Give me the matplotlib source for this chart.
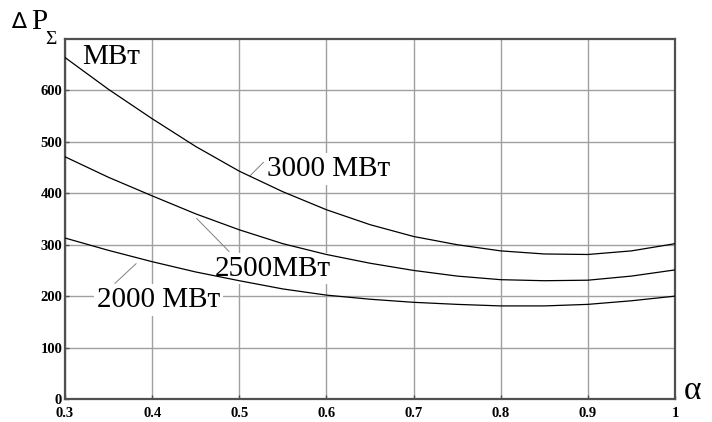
import numpy as np
import matplotlib
matplotlib.use('Agg')
import matplotlib.pyplot as plt

# Коэффициент alpha
alpha = [0.3, 0.35, 0.4, 0.45, 0.5, 0.55, 0.6, 0.65, 0.7, 0.75, 0.8, 0.85, 0.9, 0.95, 1.0]

# Суммарные потери, МВт
p_3000 = [664, 602, 545, 491, 443, 403, 368, 339, 316, 300, 288, 282, 281, 288, 302]
p_2500 = [471, 431, 395, 360, 329, 302, 281, 264, 250, 239, 232, 230, 231, 239, 251]
p_2000 = [313, 289, 267, 247, 230, 214, 202, 194, 188, 184, 181, 181, 184, 191, 200]

x_ticks = [0.3, 0.4, 0.5, 0.6, 0.7, 0.8, 0.9, 1.0]
x_tick_labels = ['0.3', '0.4', '0.5', '0.6', '0.7', '0.8', '0.9', '1']
y_ticks = [0, 100, 200, 300, 400, 500, 600]

serif = 'Liberation Serif'

fig = plt.figure(figsize=(7.12, 4.22), dpi=100)
ax = fig.add_axes([65 / 712, 1 - 399 / 422, 610 / 712, 360 / 422])

# Кривые
for p in (p_3000, p_2500, p_2000):
    ax.plot(alpha, p, color='black', linewidth=0.9, zorder=5)

ax.set_xlim(0.3, 1.0)
ax.set_ylim(0, 700)
ax.set_xticks(x_ticks)
ax.set_xticklabels(x_tick_labels)
ax.set_yticks(y_ticks)

ax.grid(True, color='#a0a0a0', linewidth=1.0, zorder=0)
ax.set_axisbelow(True)
for s in ax.spines.values():
    s.set_color('#505050')
    s.set_linewidth(1.6)

ax.tick_params(axis='both', direction='in', length=3, width=1, color='#505050')
ax.tick_params(axis='x', pad=6)
ax.tick_params(axis='y', pad=2)
for lab in ax.get_xticklabels() + ax.get_yticklabels():
    lab.set_fontfamily(serif)
    lab.set_fontweight('bold')
    lab.set_fontsize(10.5)

# Подписи кривых с белым фоном
box = dict(facecolor='white', edgecolor='none', pad=2)
ax.text(0.5318, 434, '3000 МВт', family=serif, fontsize=21, va='baseline', bbox=box, zorder=3)
ax.text(0.4721, 240, '2500МВт', family=serif, fontsize=21, va='baseline', bbox=box, zorder=3)
ax.text(0.3364, 179, '2000 МВт', family=serif, fontsize=21, va='baseline', bbox=box, zorder=3)
ax.text(0.3195, 652, 'МВт', family=serif, fontsize=21, va='baseline', bbox=box, zorder=3)

# Выноски
ax.plot([0.5123, 0.5276], [434, 460], color='#808080', linewidth=0.7, zorder=4)
ax.plot([0.4511, 0.4882], [351, 287], color='#808080', linewidth=0.7, zorder=4)
ax.plot([0.3574, 0.3815], [225, 263], color='#808080', linewidth=0.7, zorder=4)

# Подписи осей
fig.text(11 / 712, 1 - 28 / 422, '∆', family='DejaVu Sans', fontsize=16, va='baseline')
fig.text(31 / 712, 1 - 29 / 422, 'P', family=serif, fontsize=21, va='baseline')
fig.text(45 / 712, 1 - 44 / 422, 'Σ', family=serif, fontsize=14, va='baseline')
fig.text(684 / 712, 1 - 399 / 422, 'α', family=serif, fontsize=24, va='baseline')

fig.savefig('out.png', dpi=100)
